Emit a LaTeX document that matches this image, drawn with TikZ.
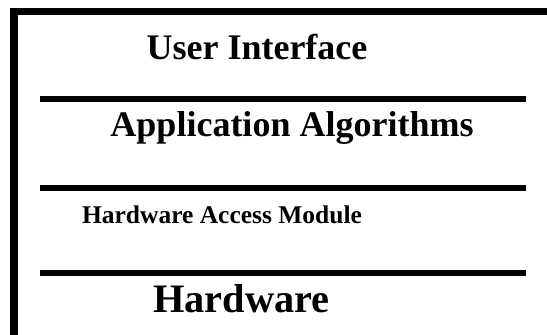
\documentclass[tikz,border=0pt]{standalone}
\usepackage{fontspec}
\setmainfont{Liberation Serif}

\begin{document}
\begin{tikzpicture}[x=0.5pt, y=0.5pt,
    layer/.style = {inner sep=0pt, anchor=base, font=\bfseries\fontsize{18}{20}\selectfont},
    small/.style = {font=\bfseries\fontsize{12.75}{14}\selectfont},
    big/.style = {font=\bfseries\fontsize{20.2}{22}\selectfont},
    rule/.style = {line width=3pt},
    frame/.style = {line width=3.75pt, line join=miter}]
      \useasboundingbox (0,0) rectangle (547,335);

      % frame on top and left
      \draw[frame] (547,323.5) -- (14,323.5) -- (14,0);

      \node[layer](ui) at (257,275) {User Interface};
      \node[layer](algo) at (292,198) {Application Algorithms};
      \node[layer, small](ham) at (222,111) {Hardware Access Module};
      \node[layer, big](hw) at (241.5,22) {Hardware};

      % separators between the layers
      \draw[rule] (40,236) -- (526,236);
      \draw[rule] (40,146.5) -- (526,146.5);
      \draw[rule] (40,62) -- (526,62);
    \end{tikzpicture}
\end{document}
